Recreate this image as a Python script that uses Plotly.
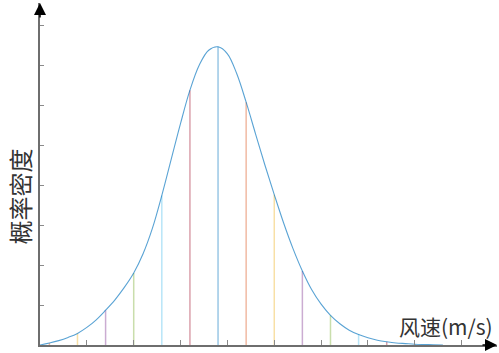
import plotly.graph_objects as go

# Wind-speed probability density: stem positions/heights and curve samples
stem_x = [1, 4, 7, 10, 13, 16, 19, 22, 25, 28, 31, 34, 37, 40]
stem_h = [0.05, 0.29, 0.87, 1.80, 3.74, 6.37, 7.455, 6.07, 3.76, 1.85, 0.74, 0.26, 0.08, 0.02]

curve_x = list(range(0, 44))
curve_y = [0.0, 0.05, 0.11, 0.19, 0.29, 0.44, 0.63, 0.87, 1.13, 1.44,
           1.80, 2.28, 2.92, 3.74, 4.64, 5.54, 6.37, 7.0, 7.37, 7.455,
           7.28, 6.78, 6.07, 5.28, 4.50, 3.76, 3.05, 2.41, 1.85, 1.38,
           1.02, 0.74, 0.53, 0.37, 0.26, 0.18, 0.12, 0.08, 0.05, 0.035,
           0.02, 0.012, 0.006, 0.0]

x_ticks = [5, 10, 15, 20, 25, 30, 35, 40, 45]
y_ticks = [1, 2, 3, 4, 5, 6, 7, 8]

# MATLAB-style colour order, softened
palette = [
    (0, 114, 189), (217, 83, 25), (237, 177, 32), (126, 47, 142),
    (119, 172, 48), (77, 190, 238), (162, 20, 47),
]

fig = go.Figure()

for i, (sx, sh) in enumerate(zip(stem_x, stem_h)):
    r, g, b = palette[(i + 1) % len(palette)]
    fig.add_trace(go.Scatter(
        x=[sx, sx], y=[0, sh], mode="lines",
        line=dict(color=f"rgba({r},{g},{b},0.4)", width=1.5),
        hoverinfo="skip", showlegend=False,
    ))

fig.add_trace(go.Scatter(
    x=curve_x, y=curve_y, mode="lines",
    line=dict(color="rgba(0,114,189,0.65)", width=1.1, shape="spline", smoothing=1.0),
    showlegend=False,
))

X_MAX = 48.77
Y_MAX = 8.55

fig.update_layout(
    width=499, height=353,
    margin=dict(l=40, r=2, t=3, b=8),
    paper_bgcolor="white", plot_bgcolor="white",
    xaxis=dict(
        range=[0, X_MAX], showgrid=False, zeroline=False,
        showline=True, linecolor="#6e6e6e", linewidth=1.5,
        ticks="inside", ticklen=5, tickcolor="#8a8a8a", tickwidth=1,
        tickvals=x_ticks, showticklabels=False,
    ),
    yaxis=dict(
        range=[0, Y_MAX], showgrid=False, zeroline=False,
        showline=True, linecolor="#6e6e6e", linewidth=1.5,
        ticks="inside", ticklen=4, tickcolor="#8a8a8a", tickwidth=1,
        tickvals=y_ticks, showticklabels=False,
    ),
    annotations=[
        # axis arrowheads
        dict(x=X_MAX, y=0, xref="x", yref="y", ax=-16, ay=0, axref="pixel", ayref="pixel",
             showarrow=True, arrowhead=2, arrowsize=1.6, arrowwidth=1.5, arrowcolor="black", text=""),
        dict(x=0, y=Y_MAX, xref="x", yref="y", ax=0, ay=16, axref="pixel", ayref="pixel",
             showarrow=True, arrowhead=2, arrowsize=1.6, arrowwidth=1.5, arrowcolor="black", text=""),
        dict(text="概率密度", x=-0.0446, y=0.433, xref="paper", yref="paper",
             xanchor="center", yanchor="middle",
             textangle=-90, showarrow=False,
             font=dict(family="Noto Sans CJK SC", size=24, color="#333333")),
        dict(text="风速(m/s)", x=43.3, y=0.056, xref="x", yref="paper",
             xanchor="center", yanchor="middle",
             showarrow=False,
             font=dict(family="Noto Sans CJK SC", size=21, color="#333333")),
    ],
)

fig.write_html("out.html")
